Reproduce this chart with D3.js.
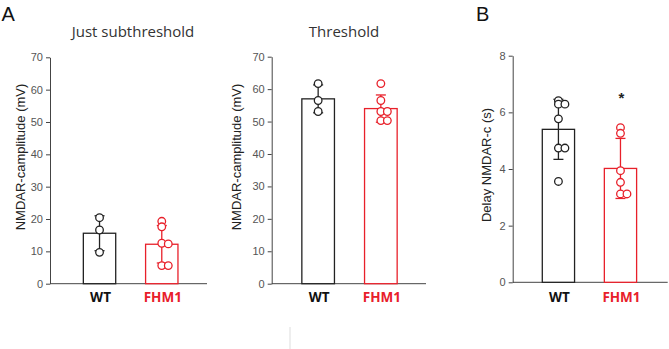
<!DOCTYPE html>
<html>
<head>
<meta charset="utf-8">
<script src="https://cdn.jsdelivr.net/npm/d3@7"></script>
<style>
  body { margin: 0; background: #fff; }
  svg { display: block; }
  .tick text { font-family: "Liberation Sans", Arial, sans-serif; font-size: 11px; fill: #555; }
</style>
</head>
<body>
<div id="chart"></div>
<script>
(function () {
    'use strict';

    // groups on the x axis
    var groups = ["WT", "FHM1"];

    // A, left: just subthreshold NMDAR-c amplitude (mV)
    var subMeans = [15.6, 12.2];
    var subSD = [5.4, 5.8];
    var subWT = [20.4, 16.6, 9.7];
    var subFHM1 = [19.3, 17.6, 12.5, 12.3, 5.6, 5.6];
    var subTicks = [0, 10, 20, 30, 40, 50, 60, 70];

    // A, right: threshold NMDAR-c amplitude (mV)
    var thrMeans = [57.0, 54.0];
    var thrSD = [4.3, 4.2];
    var thrWT = [61.7, 56.5, 53.1];
    var thrFHM1 = [61.7, 56.5, 53.1, 53.1, 50.3, 50.3];
    var thrTicks = [0, 10, 20, 30, 40, 50, 60, 70];

    // B: delay NMDAR-c (s)
    var delayMeans = [5.4, 4.02];
    var delaySD = [1.06, 1.06];
    var delayWT = [6.41, 6.29, 6.29, 5.77, 4.74, 4.74, 3.56];
    var delayFHM1 = [5.46, 5.26, 3.94, 3.53, 3.12, 3.12];
    var delayTicks = [0, 2, 4, 6, 8];

    var W = 669, H = 349;
    var colors = ["#222", "#e8202a"];

    var svg = d3.select("#chart").append("svg")
        .attr("width", W)
        .attr("height", H);

    function drawPanel(p) {
        var y = d3.scaleLinear().domain(p.domain).range([p.bottom, p.top]);
        var x = d3.scaleBand().domain(groups).range(p.xRange).paddingInner(p.pad).paddingOuter(p.pad / 2);

        var g = svg.append("g");

        // y axis
        g.append("g")
            .attr("transform", "translate(" + p.axisX + ",0)")
            .call(d3.axisLeft(y).tickValues(p.ticks).tickSize(4).tickPadding(3).tickSizeOuter(0))
            .call(function (a) {
                a.select(".domain").attr("stroke", "#444");
                a.selectAll(".tick line").attr("stroke", "#444");
            });

        // baseline
        g.append("line")
            .attr("x1", p.axisX).attr("x2", p.baseEnd)
            .attr("y1", y(0)).attr("y2", y(0))
            .attr("stroke", "#444");

        // bars
        g.selectAll(".bar")
            .data(groups)
            .enter().append("rect")
            .attr("class", "bar")
            .attr("x", function (d) { return x(d); })
            .attr("y", function (d, i) { return y(p.means[i]); })
            .attr("width", x.bandwidth())
            .attr("height", function (d, i) { return y(0) - y(p.means[i]); })
            .attr("fill", "#fff")
            .attr("stroke", function (d, i) { return colors[i]; })
            .attr("stroke-width", 1.3);

        // error bars (mean +/- SD)
        groups.forEach(function (d, i) {
            var cx = x(d) + x.bandwidth() / 2;
            var lo = y(p.means[i] - p.sd[i]), hi = y(p.means[i] + p.sd[i]);
            g.append("line").attr("x1", cx).attr("x2", cx).attr("y1", lo).attr("y2", hi)
                .attr("stroke", colors[i]).attr("stroke-width", 1.3);
            [lo, hi].forEach(function (yy) {
                g.append("line").attr("x1", cx - 5).attr("x2", cx + 5).attr("y1", yy).attr("y2", yy)
                    .attr("stroke", colors[i]).attr("stroke-width", 1.3);
            });
        });

        // individual cells, near-equal values nudged sideways
        groups.forEach(function (d, i) {
            var cx = x(d) + x.bandwidth() / 2;
            var placed = [];
            p.points[i].forEach(function (v) {
                var yy = y(v);
                var n = placed.filter(function (q) { return Math.abs(q - yy) < 2; }).length;
                placed.push(yy);
                g.append("circle")
                    .attr("cx", cx + n * 6.5)
                    .attr("cy", yy)
                    .attr("r", 3.8)
                    .attr("fill", "#fff")
                    .attr("stroke", colors[i])
                    .attr("stroke-width", 1.3);
            });
        });

        // group labels
        g.selectAll(".glabel")
            .data(groups)
            .enter().append("text")
            .attr("x", function (d) { return x(d) + x.bandwidth() / 2 + 1; })
            .attr("y", 302)
            .attr("text-anchor", "middle")
            .style("font", "bold 13.5px 'Open Sans', sans-serif")
            .attr("fill", function (d, i) { return i === 0 ? "#111" : "#e8202a"; })
            .text(function (d) { return d; });

        // y label
        g.append("text")
            .attr("transform", "translate(" + p.labelX + "," + p.labelY + ") rotate(-90)")
            .attr("text-anchor", "middle")
            .attr("dominant-baseline", "central")
            .style("font", "13px 'Liberation Sans', Arial, sans-serif")
            .attr("fill", "#222")
            .text(p.yLabel);

        if (p.title) {
            g.append("text")
                .attr("x", p.titleX).attr("y", 37)
                .attr("text-anchor", "middle")
                .style("font", "15px 'Open Sans', sans-serif")
                .attr("fill", "#333")
                .text(p.title);
        }
        return { x: x, y: y };
    }

    drawPanel({
        domain: [0, 70], ticks: subTicks, top: 57.3, bottom: 283.7,
        axisX: 50, baseEnd: 207, xRange: [68.4, 192.9], pad: 0.48,
        means: subMeans, sd: subSD, points: [subWT, subFHM1],
        yLabel: "NMDAR-camplitude (mV)", labelX: 20, labelY: 157,
        title: "Just subthreshold", titleX: 133
    });

    drawPanel({
        domain: [0, 70], ticks: thrTicks, top: 56.7, bottom: 283.7,
        axisX: 271.7, baseEnd: 426, xRange: [286.8, 412.2], pad: 0.48,
        means: thrMeans, sd: thrSD, points: [thrWT, thrFHM1],
        yLabel: "NMDAR-camplitude (mV)", labelX: 236, labelY: 157,
        title: "Threshold", titleX: 344
    });

    var b = drawPanel({
        domain: [0, 8], ticks: delayTicks, top: 55.7, bottom: 282.3,
        axisX: 512.7, baseEnd: 667.7, xRange: [527.4, 651.5], pad: 0.48,
        means: delayMeans, sd: delaySD, points: [delayWT, delayFHM1],
        yLabel: "Delay NMDAR-c (s)", labelX: 486.5, labelY: 165
    });

    // significance mark over FHM1 delay
    svg.append("text")
        .attr("x", b.x("FHM1") + b.x.bandwidth() / 2 + 1)
        .attr("y", b.y(6.6) + 8)
        .attr("text-anchor", "middle")
        .style("font", "bold 15px 'Liberation Sans', Arial, sans-serif")
        .attr("fill", "#222")
        .text("*");

    // panel letters
    svg.append("text").attr("x", 1.5).attr("y", 21)
        .style("font", "20px 'Liberation Sans', Arial, sans-serif").attr("fill", "#111").text("A");
    svg.append("text").attr("x", 476).attr("y", 21)
        .style("font", "20px 'Liberation Sans', Arial, sans-serif").attr("fill", "#111").text("B");

    // faint separator stub at the bottom
    svg.append("line").attr("x1", 290).attr("x2", 290).attr("y1", 327).attr("y2", 349)
        .attr("stroke", "#ddd");
})();
</script>
</body>
</html>
